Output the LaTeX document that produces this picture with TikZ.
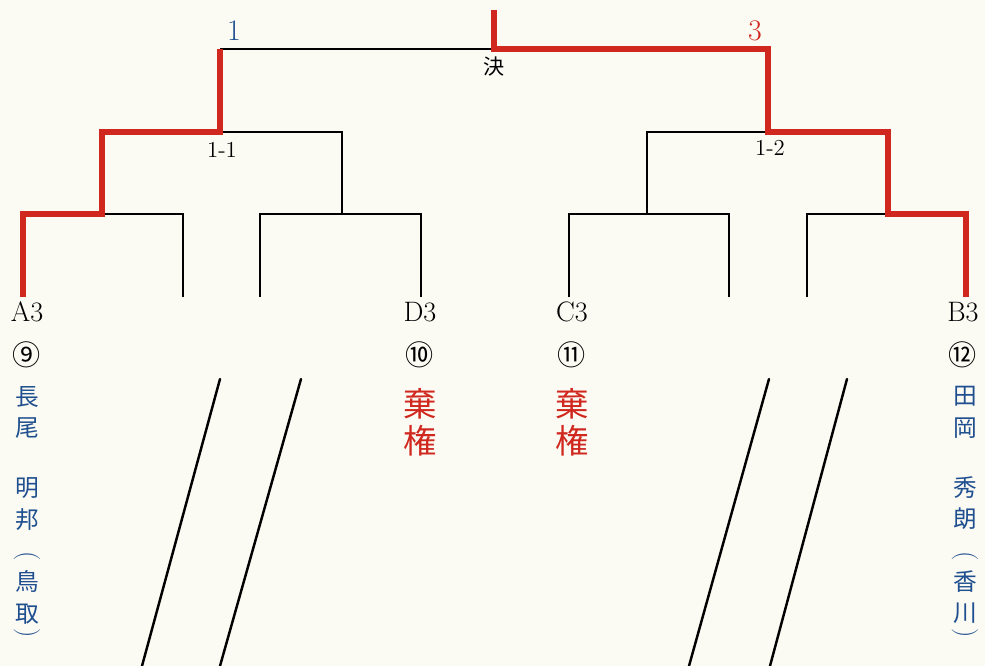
\documentclass[tikz,border=0pt]{standalone}
\usepackage{fontspec}
\newfontfamily\jpfont{Noto Sans CJK JP}
\usepackage{xcolor}
\usetikzlibrary{positioning}

\definecolor{paper}{HTML}{FBFAF3}
\definecolor{winred}{HTML}{D0281E}
\definecolor{nameblue}{HTML}{1F4F8F}

\tikzset{
  bracketline/.style={black, line width=1.15pt},
  winline/.style={winred, line width=2.9pt, line join=miter},
  slashline/.style={black, line width=1.4pt, line cap=round},
  seedlabel/.style={inner sep=0pt, font=\fontsize{16}{18}\selectfont},
  roundlabel/.style={inner sep=0pt, font=\fontsize{13}{14}\selectfont},
  circnum/.style={inner sep=0pt, font=\jpfont\fontsize{16}{18}\selectfont},
  namecol/.style={inner sep=0pt, align=center, text=nameblue, font=\jpfont\fontsize{13.5}{18}\selectfont},
  parenmark/.style={inner sep=0pt, rotate=-90, text=nameblue, font=\fontsize{15}{16}\selectfont},
  forfeit/.style={inner sep=0pt, align=center, text=winred, font=\jpfont\fontsize{19}{21}\selectfont},
  score/.style={inner sep=0pt, font=\fontsize{17}{18}\selectfont}
}

\begin{document}
\begin{tikzpicture}[x=0.02cm, y=-0.02cm]
        % Paper
        \fill[paper] (0,0) rectangle (985,666);
        \useasboundingbox (0,0) rectangle (985,666);

        % Leaf ends
        \coordinate (a)  at (23,297);
        \coordinate (l2) at (183,297);
        \coordinate (l3) at (260,297);
        \coordinate (d)  at (421,297);
        \coordinate (c)  at (569,297);
        \coordinate (l6) at (729,297);
        \coordinate (l7) at (807,297);
        \coordinate (b)  at (966,297);

        % Junctions
        \coordinate (r1a) at (102,214);
        \coordinate (r1b) at (342,214);
        \coordinate (r1c) at (647,214);
        \coordinate (r1d) at (888,214);
        \coordinate (sf1) at (220,132);
        \coordinate (sf2) at (768,132);
        \coordinate (q1)  at (220,49);
        \coordinate (fin) at (494,49);
        \coordinate (top) at (494,10);

        % Bracket, black
        \draw[bracketline] (l2) |- (r1a);
        \draw[bracketline] (l3) |- (r1b) -| (d);
        \draw[bracketline] (sf1) -| (r1b);
        \draw[bracketline] (q1) -- (fin);
        \draw[bracketline] (c) |- (r1c) -| (l6);
        \draw[bracketline] (sf2) -| (r1c);
        \draw[bracketline] (l7) |- (r1d);

        % Bracket, winners
        \draw[winline] (a) |- (r1a) |- (sf1) -- (q1);
        \draw[winline] (top) -- (fin) -| (sf2) -| (r1d) -| (b);

        % Round labels
        \node[roundlabel] (kessho) at (494,67) {\jpfont\fontsize{12}{13}\selectfont 決};
        \node[roundlabel] (semi1) at (222,150) {1-1};
        \node[roundlabel] (semi2) at (770,148) {1-2};
        \node[score, text=nameblue] (sc1) at (234,31) {1};
        \node[score, text=winred] (sc3) at (755,31) {3};

        % Seeds
        \node[seedlabel] (A3) at (27,312) {A3};
        \node[seedlabel] (D3) at (420,312) {D3};
        \node[seedlabel] (C3) at (572,312) {C3};
        \node[seedlabel] (B3) at (963,312) {B3};

        \node[circnum, below=0.38cm of A3] (n9) {⑨};
        \node[circnum, below=0.38cm of D3] (n10) {⑩};
        \node[circnum, below=0.38cm of C3] (n11) {⑪};
        \node[circnum, below=0.38cm of B3] (n12) {⑫};

        % Players
        \node[namecol, anchor=north] (nagao) at (27,386) {長\\尾\\[16pt]明\\邦\\[17.5pt]鳥\\取};
        \node[parenmark] (nagaoL) at (27,556) {(};
        \node[parenmark] (nagaoR) at (27,633) {)};
        \node[namecol, anchor=north] (taoka) at (965,386) {田\\岡\\[16pt]秀\\朗\\[17.5pt]香\\川};
        \node[parenmark] (taokaL) at (965,556) {(};
        \node[parenmark] (taokaR) at (965,633) {)};
        \node[forfeit] (kiken1) at (420,422) {棄\\権};
        \node[forfeit] (kiken2) at (572,422) {棄\\権};

        % Slashes
        \draw[slashline] (220,379) -- (142,666);
        \draw[slashline] (301,379) -- (220,666);
        \draw[slashline] (769,379) -- (689,666);
        \draw[slashline] (847,379) -- (770,666);
    \end{tikzpicture}
\end{document}
